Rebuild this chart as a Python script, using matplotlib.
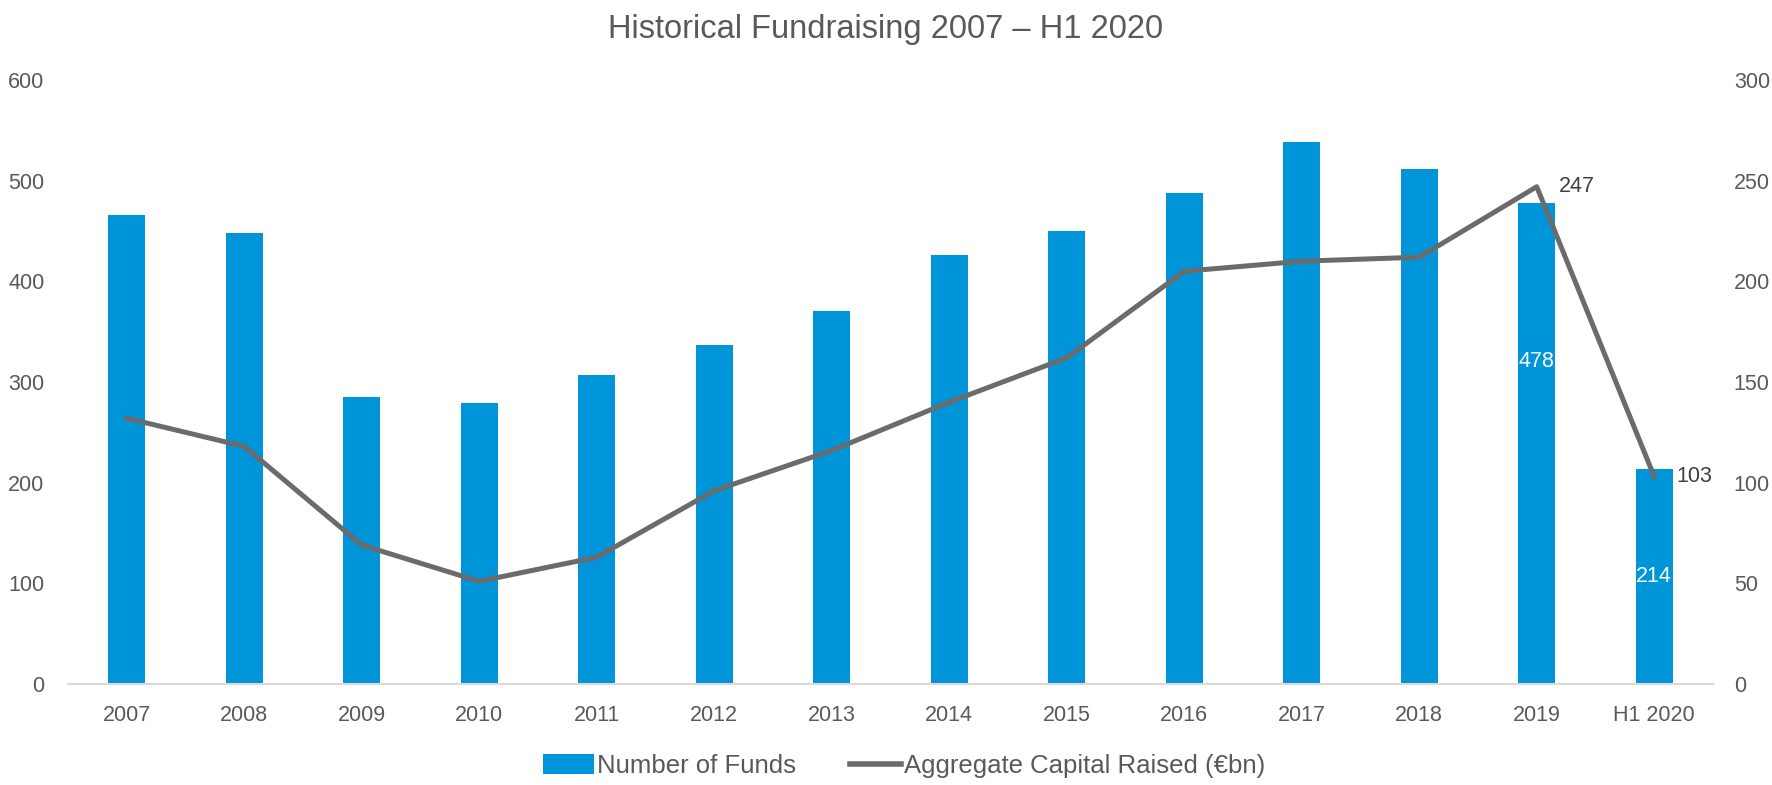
import numpy as np
import matplotlib
matplotlib.use('Agg')
import matplotlib.pyplot as plt
from matplotlib.patches import Patch
from matplotlib.lines import Line2D

plt.rcParams['font.family'] = ['Liberation Sans Narrow', 'Liberation Sans', 'DejaVu Sans']

years = ['2007', '2008', '2009', '2010', '2011', '2012', '2013',
         '2014', '2015', '2016', '2017', '2018', '2019', 'H1 2020']
number_of_funds = [466, 448, 285, 279, 307, 337, 371, 426, 450, 488, 538, 512, 478, 214]
capital_raised = [132, 118, 69, 51, 63, 96, 116, 140, 162, 205, 210, 212, 247, 103]

bar_col = '#0095D9'
line_col = '#6B6B6B'
txt_col = '#595959'
fs = 15.5

fig = plt.figure(figsize=(17.72, 7.85), dpi=100)
ax = fig.add_axes([68/1772, 101/785, 1645/1772, 604/785])
x = np.arange(len(years))

ax.bar(x, number_of_funds, width=0.315, color=bar_col, zorder=2)
ax.set_ylim(0, 600)
ax.set_yticks(range(0, 601, 100))
ax.set_xlim(-0.5, len(years) - 0.5)
ax.set_xticks(x)
ax.set_xticklabels(years)

ax2 = ax.twinx()
ax2.plot(x, capital_raised, color=line_col, lw=3.6, zorder=3)
ax2.set_ylim(0, 300)
ax2.set_yticks(range(0, 301, 50))

for a in (ax, ax2):
    for s in a.spines.values():
        s.set_visible(False)
    a.tick_params(length=0, labelsize=fs, labelcolor=txt_col)
ax.spines['bottom'].set_visible(True)
ax.spines['bottom'].set_color('#D9D9D9')
ax.spines['bottom'].set_linewidth(1.5)
ax.tick_params(axis='y', pad=17)
ax.tick_params(axis='x', pad=15)
ax2.tick_params(axis='y', pad=15)

# data labels
ax.text(12, 320, str(number_of_funds[12]), color='white', fontsize=fs,
        ha='center', va='center', zorder=4)
ax.text(13, number_of_funds[13] / 2, str(number_of_funds[13]), color='white',
        fontsize=fs, ha='center', va='center', zorder=4)
for i in (12, 13):
    ax2.annotate(str(capital_raised[i]), (x[i], capital_raised[i]),
                 xytext=(16, 0), textcoords='offset points',
                 ha='left', va='center', fontsize=fs, color='#404040')

fig.suptitle('Historical Fundraising 2007 – H1 2020', x=0.5, y=0.962,
             va='center', fontsize=23.5, color=txt_col)

handles = [Patch(facecolor=bar_col, edgecolor='none'),
           Line2D([0], [0], color=line_col, lw=4)]
fig.legend(handles, ['Number of Funds', 'Aggregate Capital Raised (€bn)'],
           loc='center', bbox_to_anchor=(0.51, 0.024), ncol=2, frameon=False,
           fontsize=18.5, labelcolor=txt_col, handlelength=2.0, handleheight=0.8,
           handletextpad=0.1, columnspacing=2.1)

plt.savefig('out.png', dpi=100)
